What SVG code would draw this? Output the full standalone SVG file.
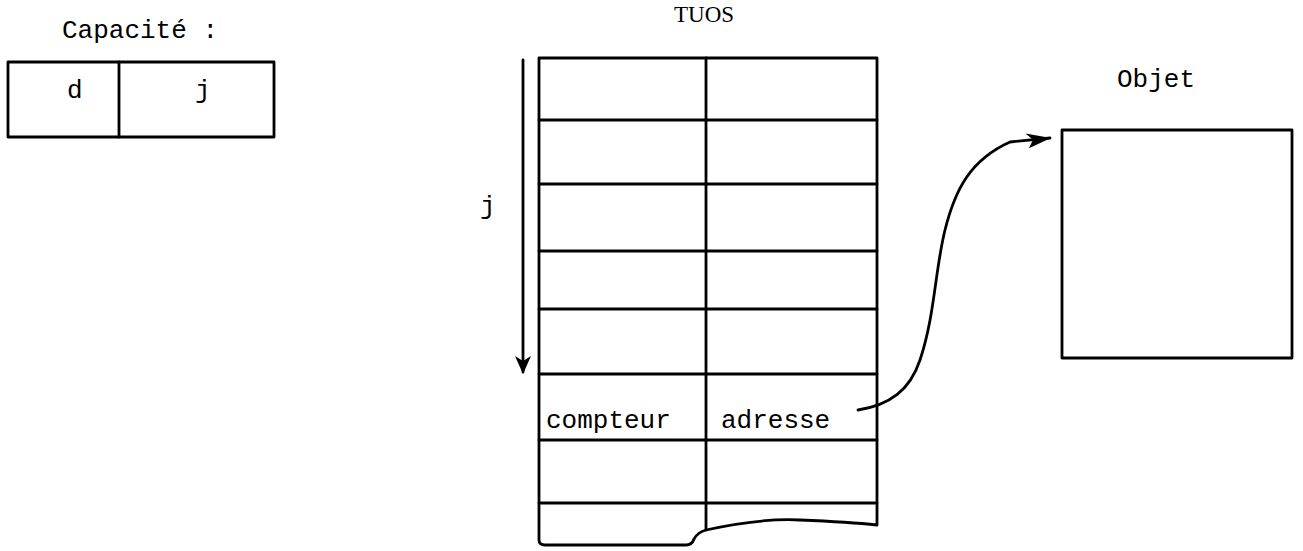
<svg xmlns="http://www.w3.org/2000/svg" width="1303" height="551" viewBox="0 0 1303 551">
<defs>
<style>
.ln{fill:none;stroke:#000;stroke-width:2.8;stroke-linecap:round;stroke-linejoin:round}
.mono{font-family:"Liberation Mono","DejaVu Sans Mono",monospace;font-size:26px;fill:#000}
.serif{font-family:"Liberation Serif","DejaVu Serif",serif;font-size:23px;fill:#000}
</style>
<marker id="ah" markerWidth="26" markerHeight="16" refX="24" refY="7" orient="auto" markerUnits="userSpaceOnUse">
<path d="M0,0 L25,7 L2,15 L7,7 Z" fill="#000"/>
</marker>
<marker id="ahd" markerWidth="18" markerHeight="24" refX="16" refY="8" orient="auto" markerUnits="userSpaceOnUse">
<path d="M0,0 L18,8 L0,16 L5,8 Z" fill="#000"/>
</marker>
</defs>
<rect width="1303" height="551" fill="#fff"/>

<g id="capacite">
<text class="mono" x="62" y="38">Capacité :</text>
<rect class="ln" x="8" y="62" width="266" height="75"/>
<line class="ln" x1="119" y1="62" x2="119" y2="137"/>
<text class="mono" x="67" y="98">d</text>
<text class="mono" x="195" y="98">j</text>
</g>

<g id="tuos">
<text class="serif" x="704" y="22" text-anchor="middle">TUOS</text>
<path class="ln" d="M539,58 L877,58 L877,525 M539,58 L539,540 Q539,545 545,545 L686,545 Q692,545 694,539 Q698,532 706,530 Q760,518 800,520 Q850,522 877,525"/>
<line class="ln" x1="706" y1="58" x2="706" y2="530"/>
<line class="ln" x1="539" y1="120" x2="877" y2="120"/>
<line class="ln" x1="539" y1="184" x2="877" y2="184"/>
<line class="ln" x1="539" y1="251" x2="877" y2="251"/>
<line class="ln" x1="539" y1="309" x2="877" y2="309"/>
<line class="ln" x1="539" y1="374" x2="877" y2="374"/>
<line class="ln" x1="539" y1="440" x2="877" y2="440"/>
<line class="ln" x1="539" y1="503" x2="877" y2="503"/>
<text class="mono" x="546" y="428">compteur</text>
<text class="mono" x="721" y="428">adresse</text>
</g>

<g id="objet">
<text class="mono" x="1117" y="87">Objet</text>
<rect class="ln" x="1062" y="130" width="230" height="228"/>
</g>

<g id="connectors">
<line class="ln" x1="523" y1="60" x2="523" y2="372" marker-end="url(#ahd)"/>
<text class="mono" x="480" y="214">j</text>
<path class="ln" d="M858,410 C890,405 910,390 920,360 C935,315 935,270 945,230 C955,190 970,160 1010,142 L1050,138" marker-end="url(#ah)"/>
</g>
</svg>
